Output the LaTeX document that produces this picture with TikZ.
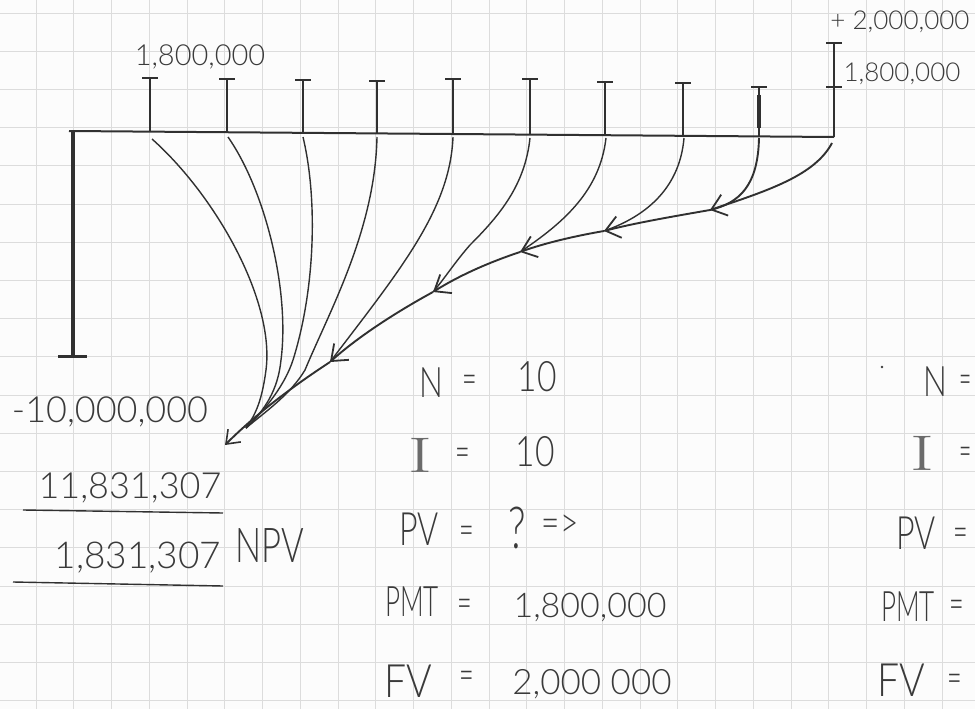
\documentclass[tikz,border=0pt]{standalone}
\usepackage{fontspec}
\IfFontExistsTF{Lato Light}{\setmainfont{Lato Light}}{\setmainfont{Lato}}
\newfontfamily\lmr{Latin Modern Roman}
\usetikzlibrary{arrows.meta,calc}
\definecolor{pencil}{HTML}{3A3A3A}
\definecolor{ink}{HTML}{303030}
\definecolor{gridc}{HTML}{DCDCDC}
\definecolor{paper}{HTML}{FCFCFC}
\newcommand{\fsz}[1]{\fontsize{#1}{#1}\selectfont}
\newcommand{\sx}[2]{\scalebox{#1}[1]{#2}}
\begin{document}
\begin{tikzpicture}[x=1pt,y=-1pt,
  gridline/.style={gridc, line width=0.9pt},
  hw/.style={text=pencil, inner sep=0pt, anchor=center},
  eq/.style={hw, font=\fsz{42}},
  eqI/.style={hw, text=pencil!75, font=\lmr\fsz{50}},
  tickline/.style={ink, line width=2.4pt},
  tickbar/.style={ink, line width=2.6pt},
  flow/.style={ink, line width=1.4pt},
  chain/.style={ink, line width=1.9pt},
  chainarrow/.style={chain, -{Straight Barb[length=14pt,width=22pt,line width=1.8pt]}},
  endarrow/.style={chain, -{Straight Barb[length=12pt,width=18pt,line width=1.6pt]}}]
\useasboundingbox (0,0) rectangle (975,709);
\fill[paper] (0,0) rectangle (975,709);
\begin{scope}
\clip (0,0) rectangle (975,709);
% grid paper
\foreach \k in {-1,...,25} \draw[gridline] ({36+37.75*\k},0) -- ({36+37.75*\k},709);
\foreach \k in {0,...,18} \draw[gridline] (0,{13+38.2*\k}) -- (975,{13+38.2*\k});

% timeline
\coordinate (t0) at (73,131);
\coordinate (tend) at (834,137);
\draw[ink, line width=2pt] (69,131) -- (tend);
% initial investment bar
\coordinate (bot) at (73,356);
\draw[ink, line width=4.2pt] (t0) -- (bot);
\draw[ink, line width=3pt] (58,356) -- (87,356);

% payments
\foreach \n/\x/\yb/\yt in {1/150/132/78, 2/227/133/79, 3/303/133/80, 4/377/133/81, 5/453/134/79, 6/530/135/79, 7/605/135/82, 8/683/136/83, 9/759/136/87, 10/834/137/43} {
  \coordinate (b\n) at (\x,\yb);
  \coordinate (u\n) at (\x,\yt);
  \draw[tickline] (b\n) -- (u\n);
  \draw[tickbar] ($(u\n)+(-8,0)$) -- ($(u\n)+(8,0)$);
}
\draw[tickbar] (826,87) -- (842,87);
\draw[ink, line width=3.2pt] (759,95) -- (759,128);

% arrow junctions
\coordinate (A1) at (710,210);
\coordinate (A2) at (604,231);
\coordinate (A3) at (520,252);
\coordinate (A4) at (433,292);
\coordinate (A5) at (330,362);
\coordinate (A6) at (225,445);
\coordinate (J) at (246,428);

% discounting curves
\draw[flow] (152,139) .. controls (215,195) and (275,300) .. (266,370) .. controls (262,400) and (256,414) .. (J);
\draw[flow] (228,137) .. controls (265,190) and (290,290) .. (281,360) .. controls (278,390) and (265,410) .. (J);
\draw[flow] (303,137) .. controls (318,200) and (315,290) .. (293,360) .. controls (285,385) and (265,410) .. (J);
\draw[flow] (377,137) .. controls (375,230) and (330,310) .. (305,370) .. controls (290,395) and (265,412) .. (J);
\draw[flow] (453,137) .. controls (450,210) and (400,270) .. (A5);
\draw[flow] (530,138) .. controls (525,185) and (500,215) .. (470,245) .. controls (455,262) and (445,278) .. (A4);
\draw[flow] (606,138) .. controls (600,190) and (565,222) .. (A3);
\draw[flow] (684,138) .. controls (680,185) and (650,215) .. (A2);
\draw[chain] (759,138) .. controls (758,185) and (740,203) .. (A1);
\draw[chainarrow] (832,143) .. controls (815,175) and (770,190) .. (A1);
\draw[chainarrow] (A1) .. controls (670,217) and (635,223) .. (A2);
\draw[chainarrow] (A2) .. controls (575,236) and (545,243) .. (A3);
\draw[chainarrow] (A3) .. controls (490,262) and (460,275) .. (A4);
\draw[chainarrow] (A4) .. controls (400,310) and (360,335) .. (A5);
\draw[endarrow] (A5) .. controls (295,385) and (258,412) .. (A6);

% labels on the diagram
\node[hw, font=\fsz{29}] (pay) at (200,57) {1,800,000};
\node[hw, font=\fsz{26}] (fv) at (900,22) {+ 2,000,000};
\node[hw, font=\fsz{26}] (pay10) at (902,74) {1,800,000};
\node[hw, font=\fsz{36}] (inv) at (110,412) {-10,000,000};
\node[hw, font=\fsz{36}] (pvsum) at (130,488) {11,831,307};
\draw[ink, line width=1.4pt] (23,510) -- (223,513);
\node[hw, font=\fsz{37}] (npvval) at (138,558) {1,831,307};
\node[hw, font=\fsz{48}] (npv) at (270,546) {\sx{0.72}{NPV}};
\draw[ink, line width=1.4pt] (13,582) -- (223,586);

% calculator inputs
\node[eq] (nL) at (431,383) {\sx{0.75}{N}};
\node[eq] (nE) at (470,384) {\sx{0.6}{=}};
\node[eq] (nV) at (537,377) {\sx{0.8}{10}};
\node[eqI] (iL) at (420,455) {\sx{1.45}{I}};
\node[eq] (iE) at (463,457) {\sx{0.6}{=}};
\node[eq] (iV) at (535,452) {\sx{0.8}{10}};
\node[eq, font=\fsz{46}] (pvL) at (419,529) {\sx{0.7}{PV}};
\node[eq] (pvE) at (467,535) {\sx{0.6}{=}};
\node[eq, font=\fsz{58}] (pvV) at (517,528) {\sx{0.7}{?}};
\node[eq] (pvA) at (560,526) {\sx{0.75}{=>}};
\node[eq] (pmtL) at (412,602) {\sx{0.62}{PMT}};
\node[eq] (pmtE) at (465,608) {\sx{0.6}{=}};
\node[hw, font=\fsz{34}] (pmtV) at (590,607) {1,800,000};
\node[eq, font=\fsz{46}] (fvL) at (408,681) {\sx{0.85}{FV}};
\node[eq] (fvE) at (467,680) {\sx{0.6}{=}};
\node[hw, font=\fsz{35}] (fvV) at (592,684) {2,000 000};

% second (cut off) column
\fill[pencil] (882,367) circle (1.3pt);
\node[eq] (n2L) at (935,382) {\sx{0.75}{N}};
\node[eq] (n2E) at (966,384) {\sx{0.5}{=}};
\node[eqI] (i2L) at (922,453) {\sx{1.45}{I}};
\node[eq] (i2E) at (966,456) {\sx{0.5}{=}};
\node[eq, font=\fsz{46}] (pv2L) at (916,533) {\sx{0.7}{PV}};
\node[eq] (pv2E) at (961,537) {\sx{0.6}{=}};
\node[eq] (pmt2L) at (908,607) {\sx{0.62}{PMT}};
\node[eq] (pmt2E) at (957,609) {\sx{0.6}{=}};
\node[eq, font=\fsz{46}] (fv2L) at (901,680) {\sx{0.85}{FV}};
\node[eq] (fv2E) at (955,683) {\sx{0.6}{=}};
\end{scope}
\end{tikzpicture}
\end{document}
